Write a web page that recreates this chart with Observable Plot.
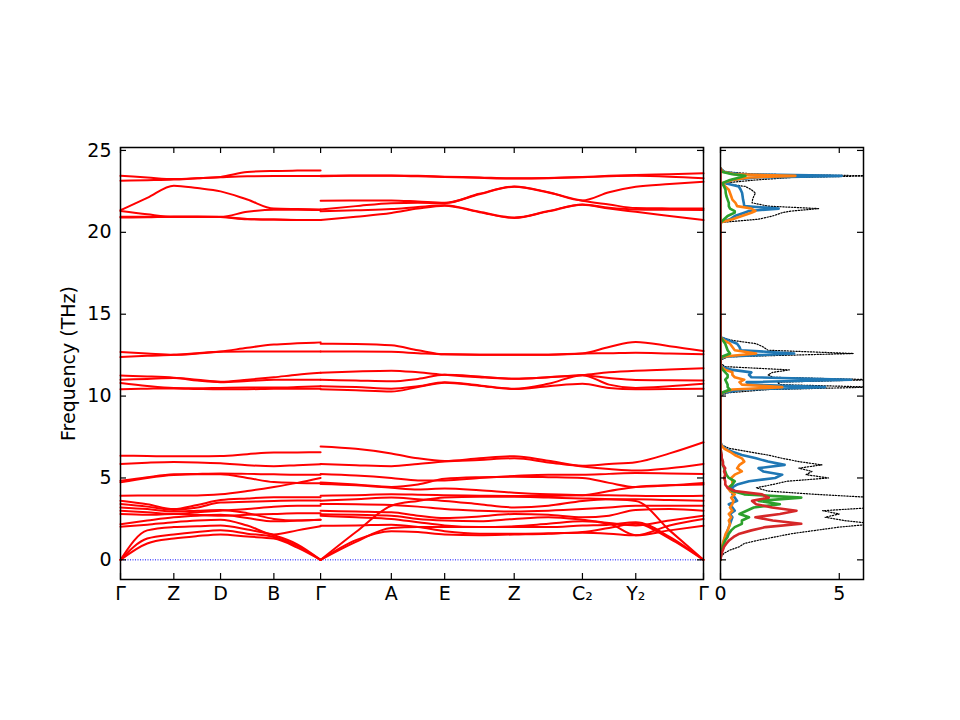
<!DOCTYPE html>
<html><head><meta charset="utf-8">
<script src="https://cdn.jsdelivr.net/npm/d3@7"></script>
<script src="https://cdn.jsdelivr.net/npm/@observablehq/plot@0.6"></script>
<style>
html,body{margin:0;padding:0;background:#fff;}
#wrap{position:relative;width:960px;height:720px;overflow:hidden;background:#fff;}
#wrap svg{position:absolute;top:0;}
</style></head><body><div id="wrap"></div>
<script>
// ---- k-path ----
const kTicks  = [0, 53.3, 100, 153.3, 200, 270.7, 324, 393.5, 461.7, 515, 582.7];
const kLabels = ["Γ","Z","D","B","Γ","A","E","Z","C₂","Y₂","Γ"];
const seg1X = [0, 26.7, 53.3, 76.7, 100, 126.7, 153.3, 176.7, 200];
const seg2X = [200, 235.3, 270.7, 297.3, 324, 358.7, 393.5, 427.6, 461.7, 488.3, 515, 548.8, 582.7];
const freqTicks = [0, 5, 10, 15, 20, 25];
const dosTicks = [0, 5];

// ---- bands, segment Γ-Z-D-B-Γ (THz) ----
const seg1Upper = [
  [23.45, 23.35, 23.25, 23.3, 23.38, 23.68, 23.75, 23.77, 23.78],
  [23.15, 23.18, 23.22, 23.3, 23.36, 23.42, 23.44, 23.44, 23.44],
  [21.35, 22.1, 22.85, 22.7, 22.5, 22.0, 21.45, 21.42, 21.4],
  [21.3, 21.1, 20.95, 20.95, 20.95, 21.25, 21.38, 21.38, 21.36],
  [20.95, 20.95, 20.95, 20.95, 20.93, 20.8, 20.78, 20.75, 20.75],
  [20.9, 20.92, 20.95, 20.95, 20.93, 20.82, 20.78, 20.76, 20.75]
];
const seg1Middle = [
  [12.69, 12.6, 12.52, 12.6, 12.72, 12.95, 13.15, 13.22, 13.28],
  [12.38, 12.46, 12.52, 12.62, 12.7, 12.72, 12.72, 12.72, 12.72],
  [11.26, 11.2, 11.12, 11.0, 10.88, 11.0, 11.15, 11.3, 11.42],
  [11.0, 11.05, 11.1, 10.95, 10.85, 10.92, 11.0, 11.0, 11.0],
  [10.8, 10.62, 10.5, 10.48, 10.5, 10.52, 10.52, 10.55, 10.6],
  [10.42, 10.45, 10.47, 10.44, 10.42, 10.42, 10.45, 10.45, 10.45]
];
const seg1Lower = [
  [0, 1.0, 1.3, 1.45, 1.55, 1.42, 1.3, 0.75, 0],
  [0, 1.3, 1.55, 1.7, 1.8, 1.6, 1.4, 0.85, 0],
  [0, 1.8, 2.0, 2.05, 2.1, 1.85, 1.5, 0.95, 0],
  [6.36, 6.34, 6.32, 6.32, 6.34, 6.45, 6.55, 6.56, 6.57],
  [5.86, 5.93, 5.97, 5.95, 5.9, 5.78, 5.72, 5.78, 5.84],
  [4.83, 5.05, 5.22, 5.25, 5.27, 5.25, 5.22, 5.2, 5.2],
  [4.73, 5.0, 5.18, 5.22, 5.22, 5.0, 4.75, 4.7, 4.68],
  [3.92, 3.93, 3.93, 3.93, 4.0, 4.2, 4.45, 4.7, 5.0],
  [3.61, 3.4, 3.1, 3.35, 3.65, 3.75, 3.82, 3.83, 3.82],
  [3.41, 3.25, 3.05, 3.2, 3.5, 3.55, 3.6, 3.62, 3.62],
  [3.0, 2.9, 2.8, 2.9, 3.0, 3.1, 3.25, 3.3, 3.3],
  [2.8, 2.75, 2.8, 2.75, 2.7, 2.75, 2.8, 2.85, 2.85],
  [2.18, 2.4, 2.6, 2.7, 2.75, 2.55, 2.35, 2.4, 2.45],
  [2.02, 2.15, 2.3, 2.4, 2.45, 2.1, 1.55, 1.8, 2.05],
  [3.2, 3.1, 2.95, 3.0, 3.05, 2.85, 2.5, 2.4, 2.45]
];

// ---- bands, segment Γ-A-E-Z-C2-Y2-Γ (THz) ----
const seg2Upper = [
  [23.45, 23.47, 23.47, 23.45, 23.4, 23.35, 23.3, 23.32, 23.38, 23.45, 23.5, 23.55, 23.6],
  [23.43, 23.45, 23.45, 23.42, 23.38, 23.33, 23.28, 23.3, 23.36, 23.42, 23.45, 23.4, 23.3],
  [21.93, 21.95, 21.95, 21.88, 21.8, 22.35, 22.8, 22.45, 21.95, 22.45, 22.78, 22.95, 23.09],
  [21.4, 21.6, 21.78, 21.8, 21.78, 22.33, 22.78, 22.43, 21.93, 21.7, 21.48, 21.46, 21.45],
  [21.28, 21.35, 21.42, 21.55, 21.65, 21.25, 20.9, 21.3, 21.7, 21.5, 21.4, 21.38, 21.36],
  [20.75, 20.95, 21.18, 21.45, 21.63, 21.23, 20.88, 21.28, 21.68, 21.45, 21.25, 21.0, 20.75]
];
const seg2Middle = [
  [13.2, 13.18, 13.1, 12.8, 12.55, 12.53, 12.52, 12.53, 12.6, 13.0, 13.3, 13.05, 12.75],
  [12.72, 12.72, 12.7, 12.62, 12.55, 12.53, 12.52, 12.53, 12.6, 12.62, 12.65, 12.6, 12.55],
  [11.42, 11.5, 11.55, 11.45, 11.3, 11.15, 11.06, 11.15, 11.28, 11.45, 11.55, 11.62, 11.7],
  [11.0, 10.95, 10.9, 11.05, 11.3, 11.2, 11.06, 11.15, 11.28, 11.1, 10.98, 10.97, 10.95],
  [10.6, 10.55, 10.45, 10.6, 10.85, 10.65, 10.45, 10.75, 11.28, 10.7, 10.5, 10.6, 10.75],
  [10.42, 10.35, 10.28, 10.55, 10.82, 10.63, 10.43, 10.6, 10.75, 10.5, 10.42, 10.43, 10.45]
];
const seg2Lower = [
  [0, 1.2, 1.75, 1.7, 1.55, 1.5, 1.55, 1.6, 1.7, 1.95, 2.2, 1.3, 0],
  [0, 1.1, 1.95, 2.0, 2.0, 2.0, 2.0, 2.0, 2.1, 2.15, 2.3, 1.4, 0],
  [0, 1.7, 3.3, 3.6, 3.8, 3.85, 3.85, 3.8, 3.75, 3.7, 3.6, 1.8, 0],
  [6.92, 6.78, 6.5, 6.2, 6.04, 6.2, 6.33, 6.05, 5.75, 5.85, 5.96, 6.5, 7.18],
  [5.86, 5.78, 5.72, 5.85, 6.0, 6.1, 6.2, 5.95, 5.7, 5.55, 5.45, 5.6, 5.86],
  [5.24, 5.15, 5.0, 4.85, 4.85, 5.0, 5.12, 5.2, 5.2, 5.25, 5.3, 5.28, 5.24],
  [4.73, 4.6, 4.45, 4.6, 4.95, 5.05, 5.08, 5.05, 5.0, 4.7, 4.45, 4.55, 4.7],
  [4.63, 4.55, 4.4, 4.3, 4.35, 4.25, 4.1, 4.0, 3.95, 4.2, 4.45, 4.55, 4.6],
  [3.92, 3.95, 4.0, 3.98, 3.95, 3.92, 3.9, 3.9, 3.95, 3.95, 3.92, 3.9, 3.92],
  [3.61, 3.7, 3.8, 3.7, 3.6, 3.4, 3.2, 3.3, 3.6, 3.7, 3.7, 3.65, 3.61],
  [3.41, 3.4, 3.35, 3.25, 3.1, 3.0, 2.95, 3.0, 3.1, 3.2, 3.3, 3.3, 3.3],
  [3.0, 2.95, 2.9, 2.7, 2.55, 2.65, 2.8, 2.75, 2.6, 2.7, 3.05, 3.1, 3.0],
  [2.79, 2.75, 2.7, 2.5, 2.4, 2.35, 2.5, 2.6, 2.45, 2.25, 2.1, 2.4, 2.69],
  [2.69, 2.6, 2.5, 2.3, 2.1, 2.0, 2.05, 2.2, 2.35, 2.2, 1.5, 2.1, 2.49],
  [2.08, 2.1, 2.15, 2.0, 1.75, 1.6, 1.6, 1.62, 1.65, 1.6, 1.5, 1.8, 2.08]
];

// ---- phonon DOS (states/THz) ----
const dosFreq = [
  0, 0.2, 0.4, 0.6, 0.8, 1.0, 1.2, 1.4, 1.6, 1.8, 2.0, 2.2, 2.4, 2.6, 2.8, 3.0, 3.2, 3.4, 3.6, 3.8,
  4.0, 4.2, 4.4, 4.6, 4.8, 5.0, 5.2, 5.4, 5.6, 5.8, 6.0, 6.2, 6.4, 6.6, 6.8, 7.0, 7.2,
  10.0, 10.2, 10.4, 10.55, 10.7, 10.85, 11.0, 11.15, 11.3, 11.45, 11.6, 11.8, 12.0, 12.2, 12.4, 12.6, 12.8, 13.0, 13.2, 13.4, 13.6,
  20.6, 20.8, 21.0, 21.2, 21.3, 21.45, 21.6, 21.8, 22.0, 22.2, 22.4, 22.6, 22.8, 23.0, 23.2, 23.35, 23.45, 23.55, 23.7, 23.9
];
const dosTotal = [
  0, 0.03, 0.15, 0.4, 0.8, 1.0, 1.6, 2.3, 3.0, 4.0, 5.0, 6.5, 5.2, 4.4, 5.0, 4.3, 6.5, 6.5, 6.5, 6.5,
  4.0, 2.0, 1.5, 2.2, 2.8, 4.55, 3.6, 3.85, 3.3, 4.27, 3.3, 2.6, 2.0, 1.2, 0.4, 0.05, 0,
  0, 0.3, 2.0, 6.5, 2.5, 2.4, 6.5, 2.2, 2.0, 2.2, 2.9, 0.2, 0, 0, 0.3, 5.6, 2.0, 1.8, 1.5, 0.5, 0,
  0, 1.6, 2.2, 2.6, 3.0, 4.13, 2.0, 1.33, 1.35, 1.4, 1.47, 1.3, 1.05, 0.07, 1.5, 3.0, 6.5, 1.5, 0.2, 0
];
const dosBlue = [
  0, 0.01, 0.03, 0.05, 0.08, 0.12, 0.15, 0.2, 0.25, 0.3, 0.35, 0.4, 0.45, 0.5, 0.4, 0.6, 0.5, 0.35, 0.7, 0.6,
  0.5, 0.6, 0.45, 0.7, 1.2, 2.3, 2.6, 1.8, 1.6, 2.7, 2.0, 1.5, 0.9, 0.5, 0.2, 0.05, 0,
  0, 0.1, 1.0, 4.4, 1.2, 1.1, 5.5, 1.3, 1.2, 1.3, 0.5, 0, 0, 0, 0.1, 3.1, 0.85, 0.8, 0.7, 0.35, 0,
  0, 0.4, 0.6, 1.0, 1.2, 2.45, 1.0, 0.98, 0.95, 0.93, 0.91, 0.85, 0.77, 0.21, 0.5, 1.5, 5.1, 0.8, 0.15, 0
];
const dosOrange = [
  0, 0.01, 0.02, 0.04, 0.07, 0.1, 0.14, 0.18, 0.22, 0.3, 0.35, 0.4, 0.35, 0.45, 0.35, 0.5, 0.4, 0.5, 0.55, 0.45,
  0.6, 0.4, 0.3, 0.5, 0.5, 0.45, 0.6, 0.9, 0.7, 0.8, 1.0, 0.9, 0.6, 0.4, 0.15, 0.03, 0,
  0, 0.05, 0.5, 2.6, 0.9, 0.8, 1.0, 0.6, 0.5, 0.5, 0.2, 0, 0, 0, 0.05, 1.5, 0.6, 0.5, 0.4, 0.15, 0,
  0, 0.5, 0.9, 1.3, 1.47, 1.3, 0.7, 0.63, 0.5, 0.45, 0.4, 0.35, 0.2, 0.07, 0.5, 1.2, 3.15, 0.6, 0.1, 0
];
const dosGreen = [
  0, 0.01, 0.03, 0.06, 0.1, 0.15, 0.2, 0.3, 0.35, 0.45, 0.6, 0.9, 0.9, 1.2, 0.8, 1.1, 1.4, 2.5, 1.6, 3.4,
  1.0, 0.5, 0.35, 0.5, 0.6, 0.35, 0.25, 0.2, 0.15, 0.1, 0.1, 0.05, 0.03, 0.02, 0, 0, 0,
  0, 0.05, 0.4, 0.3, 0.3, 0.25, 0.2, 0.3, 0.3, 0.2, 0.1, 0, 0, 0, 0.05, 0.4, 0.3, 0.25, 0.2, 0.1, 0,
  0, 0.15, 0.3, 0.6, 0.6, 0.4, 0.35, 0.35, 0.3, 0.25, 0.22, 0.21, 0.15, 0.07, 0.4, 0.8, 1.05, 0.5, 0.05, 0
];
const dosRed = [
  0, 0.02, 0.05, 0.1, 0.15, 0.25, 0.37, 0.55, 0.8, 1.3, 1.9, 3.4, 2.2, 1.47, 2.5, 3.2, 2.17, 1.5, 1.33, 2.03,
  1.75, 0.6, 0.3, 0.2, 0.2, 0.15, 0.2, 0.15, 0.2, 0.1, 0.1, 0.05, 0.05, 0.02, 0, 0, 0,
  0, 0, 0, 0, 0, 0, 0, 0, 0, 0, 0, 0, 0, 0, 0, 0, 0, 0, 0, 0, 0,
  0, 0, 0, 0, 0, 0, 0, 0, 0, 0, 0, 0, 0, 0, 0, 0, 0, 0, 0, 0
];

// ---- build tables ----
const bandRows = [];
function addSeg(name, xs, groups) {
  groups.forEach((grp, gi) => grp.forEach((band, bi) => band.forEach((f, j) => {
    bandRows.push({id: `${name}-${gi}-${bi}`, x: xs[j], f});
  })));
}
addSeg("s1", seg1X, [seg1Upper, seg1Middle, seg1Lower]);
addSeg("s2", seg2X, [seg2Upper, seg2Middle, seg2Lower]);

const dosRows = dosFreq.map((f, i) => ({
  f, total: dosTotal[i], blue: dosBlue[i], orange: dosOrange[i], green: dosGreen[i], red: dosRed[i]
}));
const kRows = kTicks.map((p, i) => ({p, label: kLabels[i]}));

const yDomain = [-1.2, 25.18];
const FONT = "DejaVu Sans";
const frameH = 432; // 579 - 147
const leftW = 583, rightW = 143;
const tick = 6;

const common = {height: 720, marginTop: 147, marginBottom: 141};
const styleObj = {fontFamily: FONT, fontSize: "19px", color: "black", background: "transparent", overflow: "visible"};

const left = Plot.plot({
  ...common,
  width: 705, marginLeft: 120, marginRight: 2,
  style: styleObj,
  x: {domain: [0, 582.7], axis: null},
  y: {domain: yDomain, axis: null},
  marks: [
    Plot.ruleY([0], {stroke: "blue", strokeWidth: 1, strokeDasharray: "1,1.5"}),
    Plot.line(bandRows, {x: "x", y: "f", z: "id", stroke: "red", strokeWidth: 2, curve: "monotone-x"}),
    Plot.frame({stroke: "black", strokeWidth: 1.5}),
    Plot.tickX(kTicks, {x: d => d, insetTop: frameH - tick, stroke: "black", strokeWidth: 1.2}),
    Plot.tickX(kTicks, {x: d => d, insetBottom: frameH - tick, stroke: "black", strokeWidth: 1.2}),
    Plot.tickY(freqTicks, {y: d => d, insetRight: leftW - tick, stroke: "black", strokeWidth: 1.2}),
    Plot.tickY(freqTicks, {y: d => d, insetLeft: leftW - tick, stroke: "black", strokeWidth: 1.2}),
    Plot.text(freqTicks, {y: d => d, frameAnchor: "left", dx: -9, textAnchor: "end", text: d => String(d), fill: "black"}),
    Plot.text(kRows, {x: "p", frameAnchor: "bottom", lineAnchor: "top", dy: 7, text: "label", fill: "black"}),
    Plot.text(["Frequency (THz)"], {frameAnchor: "left", textAnchor: "middle", lineAnchor: "middle", rotate: -90, dx: -52, text: d => d, fill: "black"})
  ]
});
left.style.left = "0px";

const right = Plot.plot({
  ...common,
  width: 255, marginLeft: 15, marginRight: 97,
  style: styleObj,
  x: {domain: [0, 6.02], axis: null},
  y: {domain: yDomain, axis: null},
  marks: [
    Plot.line(dosRows, {x: "total", y: "f", stroke: "black", strokeWidth: 1.2, strokeDasharray: "1.3,1.6", clip: true}),
    Plot.line(dosRows, {x: "blue", y: "f", stroke: "#1f77b4", strokeWidth: 2.6, clip: true}),
    Plot.line(dosRows, {x: "orange", y: "f", stroke: "#ff7f0e", strokeWidth: 2.6, clip: true}),
    Plot.line(dosRows, {x: "green", y: "f", stroke: "#2ca02c", strokeWidth: 2.6, clip: true}),
    Plot.line(dosRows, {x: "red", y: "f", stroke: "#d62728", strokeWidth: 2.6, clip: true}),
    Plot.frame({stroke: "black", strokeWidth: 1.5}),
    Plot.tickX(dosTicks, {x: d => d, insetTop: frameH - tick, stroke: "black", strokeWidth: 1.2}),
    Plot.tickX(dosTicks, {x: d => d, insetBottom: frameH - tick, stroke: "black", strokeWidth: 1.2}),
    Plot.tickY(freqTicks, {y: d => d, insetRight: rightW - tick, stroke: "black", strokeWidth: 1.2}),
    Plot.tickY(freqTicks, {y: d => d, insetLeft: rightW - tick, stroke: "black", strokeWidth: 1.2}),
    Plot.text(dosTicks, {x: d => d, frameAnchor: "bottom", lineAnchor: "top", dy: 7, text: d => String(d), fill: "black"})
  ]
});
right.style.left = "705px";

const wrap = document.getElementById("wrap");
wrap.appendChild(left);
wrap.appendChild(right);
</script></body></html>
